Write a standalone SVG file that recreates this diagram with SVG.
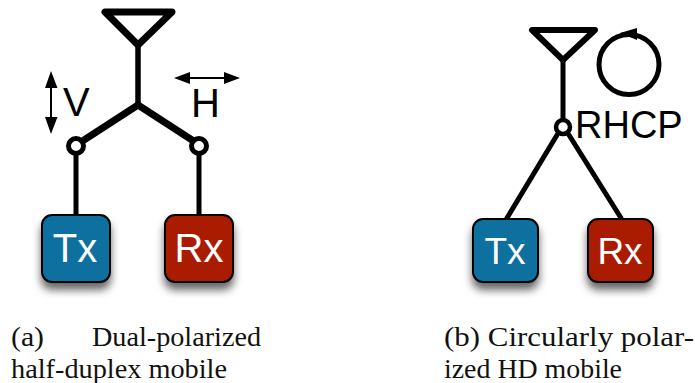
<svg xmlns="http://www.w3.org/2000/svg" width="695" height="383" viewBox="0 0 695 383">
<style>
.sans{font-family:"Liberation Sans",Arial,sans-serif}
.cap{font-family:"Liberation Serif","Times New Roman",serif;font-size:27px;fill:#111}
.w{fill:none;stroke:#000;stroke-linecap:round;stroke-linejoin:round}
.l{fill:#000;font-size:40px}
.box{stroke:#000;stroke-width:2;filter:url(#sh)}
.t{fill:#fff;text-anchor:middle}
.c{fill:#fff;stroke:#000}
</style>
<defs>
<filter id="sh" x="-30%" y="-30%" width="160%" height="170%"><feDropShadow dx="0" dy="7" stdDeviation="4.500" flood-color="#000" flood-opacity="0.6"/></filter>
</defs>
<rect width="695" height="383" fill="#fff"/>
<g id="connectors">
<path class="w" stroke-width="7" d="M105 12H172L138 45Z"/>
<path class="w" stroke-width="5.500" d="M138 46V105" stroke-linecap="butt"/>
<path class="w" stroke-width="7" d="M138 105L84 140M138 105L192 140"/>
<path class="w" stroke-width="5" d="M76 152V214M199 152V214"/>
<path class="w" stroke-width="6" d="M532 30H595L563 60Z"/>
<path class="w" stroke-width="5" d="M563 60V118"/>
<path class="w" stroke-width="5" d="M557 135L507 218M569 135L621 218"/>
</g>
<g id="arrow-v"><path d="M51 78V127" stroke="#000" stroke-width="2"/><path d="M51 71L57.500 88H45ZM51 134L57.500 117H45Z"/></g>
<g id="arrow-h"><path d="M180 78H234" stroke="#000" stroke-width="2"/><path d="M174 78L190 72V84ZM240 78L224 72V84Z"/></g>
<g id="label-v"><text class="sans l" x="63" y="116">V</text></g>
<g id="label-h"><text class="sans l" x="191" y="117">H</text></g>
<g id="junction-a1"><circle class="c" cx="76" cy="146" r="7.500" stroke-width="5"/></g>
<g id="junction-a2"><circle class="c" cx="199" cy="146" r="7.500" stroke-width="5"/></g>
<g id="tx-a"><rect class="box" x="42" y="215" width="68" height="67" rx="10" fill="#08709f"/><text class="sans t" x="75" y="262" font-size="40">Tx</text></g>
<g id="rx-a"><rect class="box" x="165" y="215" width="68" height="67" rx="10" fill="#a91a00"/><text class="sans t" x="199" y="262" font-size="40">Rx</text></g>
<g id="rhcp-loop"><circle cx="629" cy="64.500" r="30" fill="none" stroke="#000" stroke-width="5"/><path d="M620 33L637 28V40Z"/></g>
<g id="junction-b"><circle class="c" cx="563" cy="127" r="7" stroke-width="4.500"/></g>
<g id="label-rhcp"><text class="sans" x="575" y="138" font-size="38" fill="#000">RHCP</text></g>
<g id="tx-b"><rect class="box" x="473" y="219" width="65" height="63" rx="10" fill="#08709f"/><text class="sans t" x="505" y="264" font-size="37">Tx</text></g>
<g id="rx-b"><rect class="box" x="588" y="219" width="65" height="63" rx="10" fill="#a91a00"/><text class="sans t" x="620" y="264" font-size="37">Rx</text></g>
<g id="caption-a"><text class="cap" x="11" y="346" textLength="33" lengthAdjust="spacingAndGlyphs">(a)</text><text class="cap" x="92" y="346" textLength="169" lengthAdjust="spacingAndGlyphs">Dual-polarized</text><text class="cap" x="11" y="378" textLength="216" lengthAdjust="spacingAndGlyphs">half-duplex mobile</text></g>
<g id="caption-b"><text class="cap" x="444" y="346" textLength="250" lengthAdjust="spacingAndGlyphs">(b) Circularly polar-</text><text class="cap" x="444" y="378" textLength="178" lengthAdjust="spacingAndGlyphs">ized HD mobile</text></g>
</svg>
